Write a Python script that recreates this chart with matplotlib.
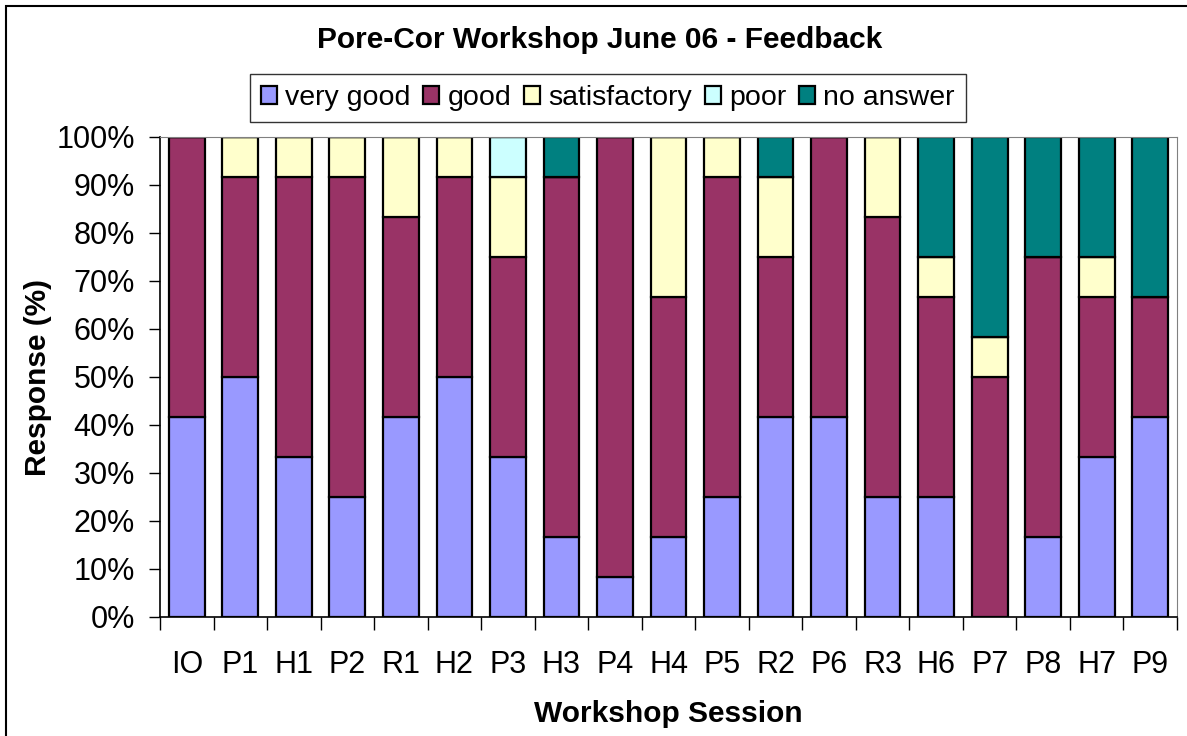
import matplotlib
matplotlib.use("Agg")
import matplotlib.pyplot as plt
import numpy as np
from matplotlib.patches import Rectangle

plt.rcParams["font.family"] = ["Liberation Sans", "DejaVu Sans"]

sessions = ["IO", "P1", "H1", "P2", "R1", "H2", "P3", "H3", "P4", "H4",
            "P5", "R2", "P6", "R3", "H6", "P7", "P8", "H7", "P9"]

# number of responses per session (12 participants)
very_good = [5, 6, 4, 3, 5, 6, 4, 2, 1, 2, 3, 5, 5, 3, 3, 0, 2, 4, 5]
good = [7, 5, 7, 8, 5, 5, 5, 9, 11, 6, 8, 4, 7, 7, 5, 6, 7, 4, 3]
satisfactory = [0, 1, 1, 1, 2, 1, 2, 0, 0, 4, 1, 2, 0, 2, 1, 1, 0, 1, 0]
poor = [0, 0, 0, 0, 0, 0, 1, 0, 0, 0, 0, 0, 0, 0, 0, 0, 0, 0, 0]
no_answer = [0, 0, 0, 0, 0, 0, 0, 1, 0, 0, 0, 1, 0, 0, 3, 5, 3, 3, 4]

series_names = ["very good", "good", "satisfactory", "poor", "no answer"]
colors = ["#9999FF", "#993366", "#FFFFCC", "#CCFFFF", "#008080"]

W, H = 1187, 736
fig = plt.figure(figsize=(W / 100, H / 100), dpi=100)

# outer chart border
fig.patches.append(Rectangle((6 / W, -0.01), 1.1, (H - 6) / H + 0.01,
                             transform=fig.transFigure, fill=False,
                             edgecolor="black", linewidth=1.5))

ax = fig.add_axes([160 / W, (H - 617) / H, (1177 - 160) / W, (617 - 137) / H])

counts = np.array([very_good, good, satisfactory, poor, no_answer], dtype=float)
pct = counts / counts.sum(axis=0) * 100
x = np.arange(len(sessions))
bottom = np.zeros(len(sessions))
handles = []
for name, vals, col in zip(series_names, pct, colors):
    b = ax.bar(x, vals, width=0.667, bottom=bottom, color=col,
               edgecolor="black", linewidth=1.6, label=name)
    handles.append(b)
    bottom += vals

ax.set_xlim(-0.5, len(sessions) - 0.5)
ax.set_ylim(0, 100)
ax.set_yticks(np.arange(0, 101, 10))
ax.set_yticklabels([f"{v}%" for v in range(0, 101, 10)], fontsize=22)
ax.set_xticks(np.arange(-0.5, len(sessions), 1.0))
ax.set_xticklabels([])
ax.set_xticks(x, minor=True)
ax.set_xticklabels(sessions, minor=True, fontsize=22)
ax.tick_params(axis="x", which="major", direction="out", length=9, width=1)
ax.tick_params(axis="x", which="minor", length=0, pad=24)
ax.tick_params(axis="y", direction="out", length=8, width=1, pad=10)

for s in ["top", "right"]:
    ax.spines[s].set_color("#808080")
for s in ["left", "bottom"]:
    ax.spines[s].set_color("black")
    ax.spines[s].set_linewidth(1.2)

ax.set_xlabel("Workshop Session", fontsize=21.5, fontweight="bold", labelpad=14)
ax.set_ylabel("Response (%)", fontsize=21.5, fontweight="bold", labelpad=3)

fig.text(600 / W, (H - 40) / H, "Pore-Cor Workshop June 06 - Feedback",
         ha="center", va="center", fontsize=21.5, fontweight="bold")

leg = fig.legend(handles, series_names, loc="center", ncol=5,
                 bbox_to_anchor=(608 / W, (H - 98) / H), fontsize=20.5,
                 frameon=True, fancybox=False, edgecolor="black",
                 handlelength=0.55, handleheight=0.55, handletextpad=0.3,
                 columnspacing=0.45, borderpad=0.4, borderaxespad=0)
leg.get_frame().set_linewidth(1.0)

fig.savefig("out.png", dpi=100)
